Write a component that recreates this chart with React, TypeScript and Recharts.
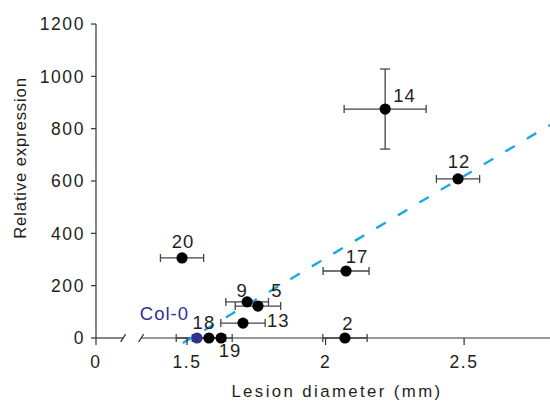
import { ScatterChart, Scatter, XAxis, YAxis, ErrorBar, ReferenceLine, Label } from 'recharts';

// lines tested (Col-0 is the wild type)
const lines = ['Col-0', '18', '19', '13', '9', '5', '20', '2', '17', '14', '12'];
const diameter = [1.536, 1.579, 1.623, 1.702, 1.717, 1.756, 1.482, 2.07, 2.074, 2.215, 2.478];
const diameterErr = [0.075, 0.06, 0.04, 0.08, 0.077, 0.082, 0.078, 0.08, 0.083, 0.148, 0.078];
const expression = [0, 0, 0, 57, 138, 122, 306, 0, 256, 875, 608];
const expressionErr = [0, 0, 0, 0, 0, 0, 0, 0, 0, 153, 0];

const yTicks = [0, 200, 400, 600, 800, 1000, 1200];
const xTicks = [1.5, 2, 2.5];

// regression line end points
const trendX = [1.485, 2.81];
const trendY = [-19, 814];

// x axis is broken between 0 and 1.5
const X_ZERO = 1.1715;
const X_MAX = 2.81;
const BREAKS = [1.2695, 1.3345];

const INK = '#231f20';
const AXIS = '#333';
const BLUE = '#2e3192';
const CYAN = '#1ea7e1';
const FONT = '"Liberation Sans", Arial, sans-serif';

// where each line's name sits relative to its dot
const labelPos: Record<string, [number, number, 'start' | 'middle' | 'end']> = {
  'Col-0': [-8, -18, 'end'],
  '18': [-5, -9, 'middle'],
  '19': [9, 19, 'middle'],
  '13': [24, 4, 'start'],
  '9': [-5, -5, 'middle'],
  '5': [19, -9, 'middle'],
  '20': [1, -10, 'middle'],
  '2': [3, -8, 'middle'],
  '17': [11, -8, 'middle'],
  '14': [8, -7, 'start'],
  '12': [1, -11, 'middle'],
};

const rows = lines.map((name, i) => ({
  name,
  x: diameter[i],
  y: expression[i],
  ex: diameterErr[i],
  ey: expressionErr[i],
}));
const wildType = rows.filter((r) => r.name === 'Col-0');
const mutants = rows.filter((r) => r.name !== 'Col-0');

const Point = (props: any) => {
  const { cx, cy, payload, fill } = props;
  const [dx, dy, anchor] = labelPos[payload.name];
  return (
    <g>
      <circle cx={cx} cy={cy} r={5.6} fill={fill} />
      <text
        x={cx + dx}
        y={cy + dy}
        textAnchor={anchor}
        fontSize={18.5}
        fontFamily={FONT}
        letterSpacing={1}
        fill={payload.name === 'Col-0' ? BLUE : INK}
      >
        {payload.name}
      </text>
    </g>
  );
};

const XTick = ({ x, y, payload }: any) => (
  <text x={x} y={y + 21} textAnchor="middle" fontSize={17.5} fontFamily={FONT} letterSpacing={1.6} fill={INK}>
    {payload.value === X_ZERO ? '0' : payload.value}
  </text>
);

const YTick = ({ x, y, payload }: any) => (
  <text x={x} y={y} dy="0.36em" textAnchor="end" fontSize={17.5} fontFamily={FONT} letterSpacing={1.6} fill={INK}>
    {payload.value}
  </text>
);

export default function App() {
  return (
    <div style={{ position: 'absolute', left: 0, top: 0, background: '#fff' }}>
      <ScatterChart width={550} height={403} margin={{ top: 24, right: 0, bottom: 25, left: 0 }}>
        <XAxis
          type="number"
          dataKey="x"
          domain={[X_ZERO, X_MAX]}
          ticks={[X_ZERO, ...xTicks]}
          allowDataOverflow
          axisLine={false}
          tickLine={{ stroke: AXIS, strokeWidth: 1.2 }}
          tickSize={7}
          height={40}
          tick={<XTick />}
        >
          <Label
            content={({ viewBox }: any) => (
              <text
                x={viewBox.x + viewBox.width / 2 + 14}
                y={viewBox.y + 59}
                textAnchor="middle"
                fontSize={16.8}
                fontFamily={FONT}
                letterSpacing={2.4}
                fill={INK}
              >
                Lesion diameter (mm)
              </text>
            )}
          />
        </XAxis>
        <YAxis
          type="number"
          dataKey="y"
          domain={[0, 1200]}
          ticks={yTicks}
          width={96}
          axisLine={{ stroke: AXIS, strokeWidth: 1.2 }}
          tickLine={{ stroke: AXIS, strokeWidth: 1.2 }}
          tickSize={5}
          tickMargin={6}
          tick={<YTick />}
        >
          <Label
            content={() => (
              <text
                x={25.5}
                y={158}
                transform="rotate(-90, 25.5, 158)"
                textAnchor="middle"
                fontSize={16.8}
                fontFamily={FONT}
                letterSpacing={0.8}
                fill={INK}
              >
                Relative expression
              </text>
            )}
          />
        </YAxis>

        <ReferenceLine segment={[{ x: X_ZERO, y: 0 }, { x: BREAKS[0], y: 0 }]} stroke={AXIS} strokeWidth={1.2} ifOverflow="visible" />
        <ReferenceLine segment={[{ x: BREAKS[1], y: 0 }, { x: X_MAX, y: 0 }]} stroke={AXIS} strokeWidth={1.2} ifOverflow="visible" />
        {BREAKS.map((b) => (
          <ReferenceLine
            key={b}
            segment={[{ x: b - 0.009, y: -15 }, { x: b + 0.009, y: 15 }]}
            stroke={AXIS}
            strokeWidth={1.2}
            ifOverflow="visible"
          />
        ))}

        <Scatter data={mutants} fill="#000" shape={<Point />} isAnimationActive={false}>
          <ErrorBar dataKey="ex" direction="x" width={4} stroke="#444" strokeWidth={1.3} />
          <ErrorBar dataKey="ey" direction="y" width={5} stroke="#444" strokeWidth={1.3} />
        </Scatter>
        <Scatter data={wildType} fill={BLUE} shape={<Point />} isAnimationActive={false}>
          <ErrorBar dataKey="ex" direction="x" width={4} stroke="#444" strokeWidth={1.3} />
        </Scatter>

        <ReferenceLine
          segment={[{ x: trendX[0], y: trendY[0] }, { x: trendX[1], y: trendY[1] }]}
          stroke={CYAN}
          strokeWidth={2.4}
          strokeDasharray="11 14"
          ifOverflow="visible"
        />
      </ScatterChart>
    </div>
  );
}
